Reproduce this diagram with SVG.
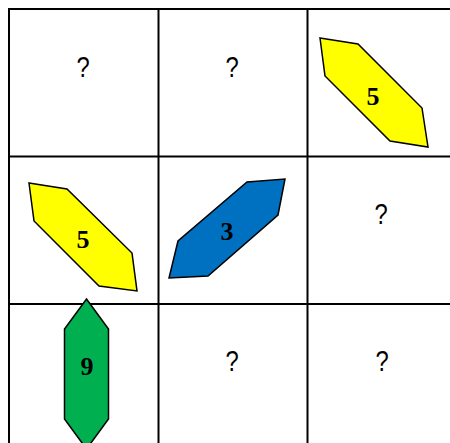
<svg xmlns="http://www.w3.org/2000/svg" width="450" height="443" viewBox="0 0 450 443">
<style>
.grid{stroke:#000;stroke-width:2;fill:none}
.shape{stroke:#000;stroke-width:1.5;stroke-linejoin:miter}
.num{font-family:"Liberation Serif",serif;font-weight:bold;font-size:26px;text-anchor:middle;fill:#000}
.q{font-family:"Liberation Sans",Arial,sans-serif;font-size:29px;text-anchor:middle;fill:#000}
</style>
<rect width="450" height="443" fill="#fff"/>
<g id="grid" class="grid">
<line x1="8" y1="9" x2="450" y2="9"/>
<line x1="8" y1="156.5" x2="450" y2="156.5"/>
<line x1="8" y1="304" x2="450" y2="304"/>
<line x1="9" y1="8" x2="9" y2="443"/>
<line x1="158.5" y1="8" x2="158.5" y2="443"/>
<line x1="307.5" y1="8" x2="307.5" y2="443"/>
</g>
<g id="q1"><text class="q" transform="translate(83,77) scale(0.82,1)">?</text></g>
<g id="q2"><text class="q" transform="translate(232,77) scale(0.82,1)">?</text></g>
<g id="shape-top-right">
<polygon class="shape" fill="#FFFF00" points="320,38 358,44 422,108 428,147 390,141 325,76"/>
<text class="num" x="373" y="105">5</text>
</g>
<g id="shape-mid-left">
<polygon class="shape" fill="#FFFF00" points="29,183 67,189 132,253 137,291 99,286 34,221"/>
<text class="num" x="83" y="248">5</text>
</g>
<g id="shape-center">
<polygon class="shape" fill="#0070C0" points="247,182 285,179 278,215 208,276 169,278 178,241"/>
<text class="num" x="227" y="240">3</text>
</g>
<g id="q3"><text class="q" transform="translate(381,224) scale(0.82,1)">?</text></g>
<g id="shape-bottom-left">
<polygon class="shape" fill="#00B050" points="86.5,299 108.5,329 108.5,419 86.5,449 64.5,419 64.5,329"/>
<text class="num" x="87" y="375">9</text>
</g>
<g id="q4"><text class="q" transform="translate(232,371) scale(0.82,1)">?</text></g>
<g id="q5"><text class="q" transform="translate(382,371) scale(0.82,1)">?</text></g>
</svg>
